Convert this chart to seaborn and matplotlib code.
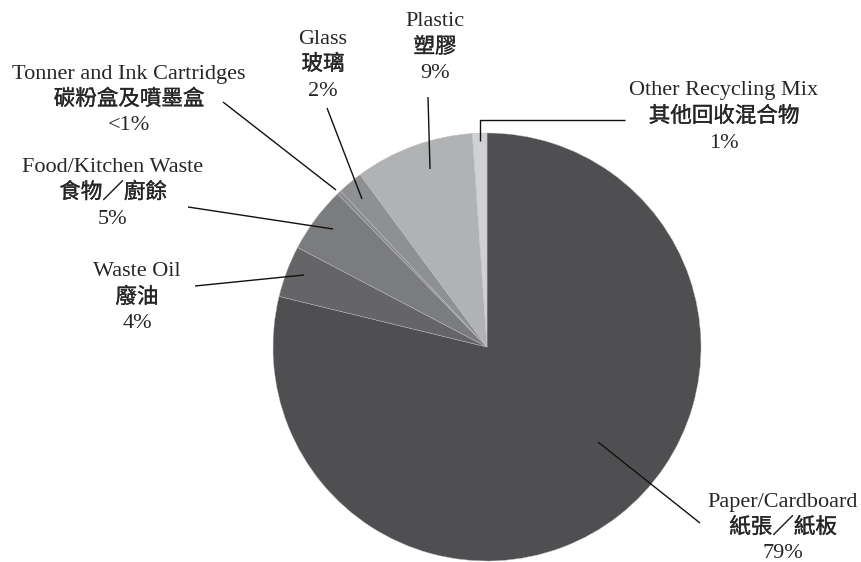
import matplotlib
matplotlib.use("Agg")
import matplotlib.pyplot as plt
import matplotlib.patheffects as pe
import seaborn as sns

sns.set_theme(style="white")
plt.rcParams['font.family'] = ['Liberation Serif', 'Noto Sans CJK TC']

labels_en = ["Paper/Cardboard", "Waste Oil", "Food/Kitchen Waste",
             "Tonner and Ink Cartridges", "Glass", "Plastic", "Other Recycling Mix"]
labels_zh = ["紙張／紙板", "廢油", "食物／廚餘", "碳粉盒及噴墨盒", "玻璃", "塑膠", "其他回收混合物"]
pct_text = ["79%", "4%", "5%", "<1%", "2%", "9%", "1%"]
values = [78.8, 3.9, 5.0, 0.3, 1.9, 9.0, 1.1]
colors = ["#4f4f51", "#656567", "#7b7c7e", "#8a8b8d", "#8f9092", "#b1b2b4", "#d0d1d3"]

W, H = 862, 562
fig = plt.figure(figsize=(W / 100, H / 100), dpi=100)
ax = fig.add_axes([0, 0, 1, 1])

cx, cy, r = 487, 347, 214
ax.pie(values, colors=colors, startangle=90, counterclock=False,
       center=(cx, H - cy), radius=r,
       wedgeprops=dict(edgecolor="#bdbdbf", linewidth=0.3))
ax.set_xlim(0, W)
ax.set_ylim(0, H)
ax.set_aspect('equal')
ax.axis('off')

def Y(y):
    return H - y

txt_color = '#262626'
# label centres (pixel coords) for first line
label_pos = [(783, 502), (137, 272), (113, 167), (129, 74), (323, 39), (435, 22), (724, 91)]
line_gap = 26
for (x, y), en, zh, pc in zip(label_pos, labels_en, labels_zh, pct_text):
    ax.text(x, Y(y), en, ha='center', va='center', fontsize=16, color=txt_color)
    ax.text(x, Y(y + line_gap), zh, ha='center', va='center', fontsize=15.5,
            color=txt_color, fontweight='normal',
            path_effects=[pe.withStroke(linewidth=0.25, foreground=txt_color)])
    ax.text(x, Y(y + 2 * line_gap), pc, ha='center', va='center', fontsize=16,
            color=txt_color)

# leader lines (pixel coords)
leaders = [
    [(598, 442), (700, 523)],
    [(195, 286), (304, 275)],
    [(188, 207), (333, 229)],
    [(223, 102), (336, 190)],
    [(327, 108), (362, 199)],
    [(428, 97), (430, 169)],
    [(480, 141), (480, 120), (625, 120)],
]
for pts in leaders:
    xs = [p[0] for p in pts]
    ys = [Y(p[1]) for p in pts]
    ax.plot(xs, ys, color='#111111', linewidth=1.0, solid_capstyle='butt')

fig.savefig("out.png", dpi=100, facecolor='white')
